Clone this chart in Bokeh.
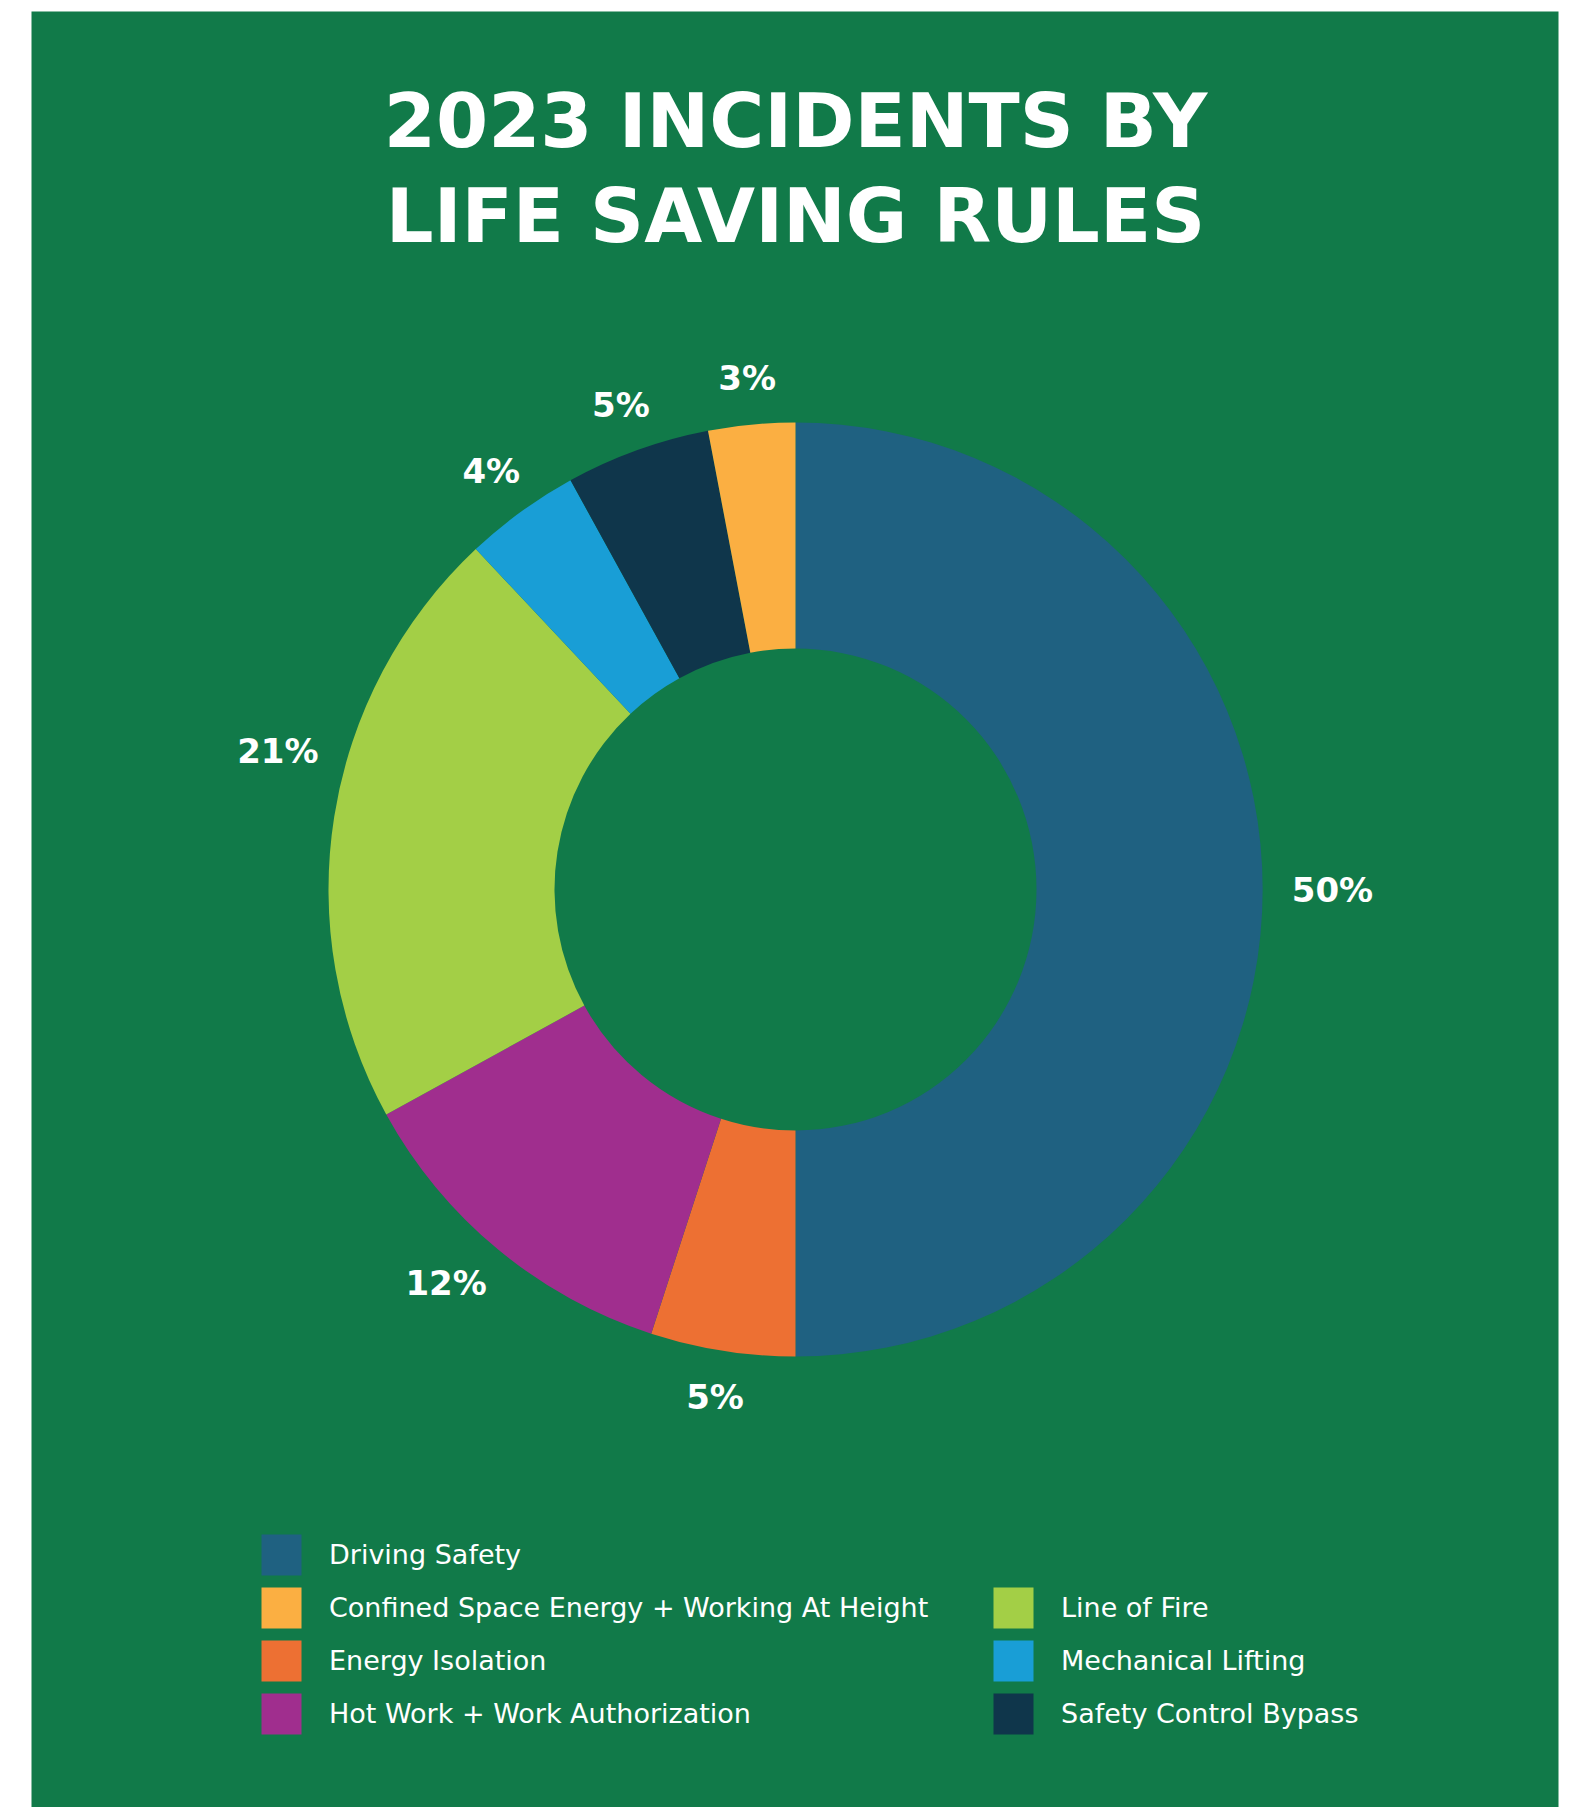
import numpy as np
from bokeh.plotting import figure
from bokeh.models import ColumnDataSource, Legend, LegendItem, Range1d
from bokeh.core.properties import value
from bokeh.embed import file_html
from bokeh.resources import INLINE

# ---------------- data ----------------
title_lines = ["2023 INCIDENTS BY", "LIFE SAVING RULES"]
categories = [
    "Driving Safety",
    "Energy Isolation",
    "Hot Work + Work Authorization",
    "Line of Fire",
    "Mechanical Lifting",
    "Safety Control Bypass",
    "Confined Space Energy + Working At Height",
]
percent = [50, 5, 12, 21, 4, 5, 3]
colors = ["#1F6181", "#ED7033", "#A02E8E", "#A3CF46", "#199ED6", "#0F364B", "#FBAF42"]
legend_col1 = [
    "Driving Safety",
    "Confined Space Energy + Working At Height",
    "Energy Isolation",
    "Hot Work + Work Authorization",
]
legend_col2 = ["Line of Fire", "Mechanical Lifting", "Safety Control Bypass"]
# small angular nudges (degrees, clockwise) for label placement
label_nudge = [0, 0, 2, 6, 0, 0, 0]

# ---------------- layout ----------------
W, H = 1573, 1807
BG = "#117A49"
FONT = "DejaVu Sans"
CX, CY = 795, H - 889
R_OUT, R_IN = 467, 241

vals = np.array(percent, dtype=float)
cum_end = np.cumsum(vals)
cum_start = cum_end - vals
start_angle = np.pi / 2 - 2 * np.pi * cum_start / 100.0
end_angle = np.pi / 2 - 2 * np.pi * cum_end / 100.0

labels = [f"{v}%" for v in percent]
mid = (cum_start + vals / 2) / 100.0 * 360.0 + np.array(label_nudge)
theta = np.deg2rad(90.0 - mid)
c, s = np.cos(theta), np.sin(theta)
hw = np.array([14.0 * len(t) for t in labels])
hh = 19.0
r_lab = R_OUT + 28 + np.sqrt((hw * c) ** 2 + (hh * s) ** 2)
lx = CX + r_lab * c
ly = CY + r_lab * s

src = ColumnDataSource(dict(
    cat=categories, pct=percent, color=colors,
    start=start_angle, end=end_angle,
))
lab_src = ColumnDataSource(dict(x=lx, y=ly, text=labels))

p = figure(
    width=W, height=H,
    x_range=Range1d(0, W), y_range=Range1d(0, H),
    output_backend="svg", toolbar_location=None,
    x_axis_type=None, y_axis_type=None, min_border=0,
)
p.outline_line_color = None
p.background_fill_color = "white"
p.border_fill_color = "white"
p.xgrid.visible = False
p.ygrid.visible = False

# green panel
p.quad(left=31, right=1558, bottom=0, top=H - 11, fill_color=BG, line_color=None)

# donut
wedges = p.annular_wedge(
    x=CX, y=CY, inner_radius=R_IN, outer_radius=R_OUT,
    start_angle="start", end_angle="end", direction="clock",
    fill_color="color", line_color=None, source=src,
)

# percentage labels
p.text(
    x="x", y="y", text="text", source=lab_src,
    text_align="center", text_baseline="middle",
    text_font=value(FONT), text_font_style="bold",
    text_font_size="34px", text_color="white",
)

# title
p.text(
    x=[CX, CX], y=[H - 120, H - 215], text=title_lines,
    text_align="center", text_baseline="middle",
    text_font=value(FONT), text_font_style="bold",
    text_font_size="75px", text_color="white",
)

# legends
def make_legend(names, loc):
    items = [LegendItem(label=n, renderers=[wedges], index=categories.index(n)) for n in names]
    return Legend(
        items=items, location=loc, orientation="vertical",
        glyph_width=50, glyph_height=51, label_standoff=23, spacing=2,
        padding=0, margin=0, border_line_color=None, background_fill_alpha=0,
        label_text_color="white", label_text_font=FONT,
        label_text_font_size="27px",
    )

p.add_layout(make_legend(legend_col1, (256, 68)))
p.add_layout(make_legend(legend_col2, (988, 68)))

open("out.html", "w").write(file_html(p, INLINE))
